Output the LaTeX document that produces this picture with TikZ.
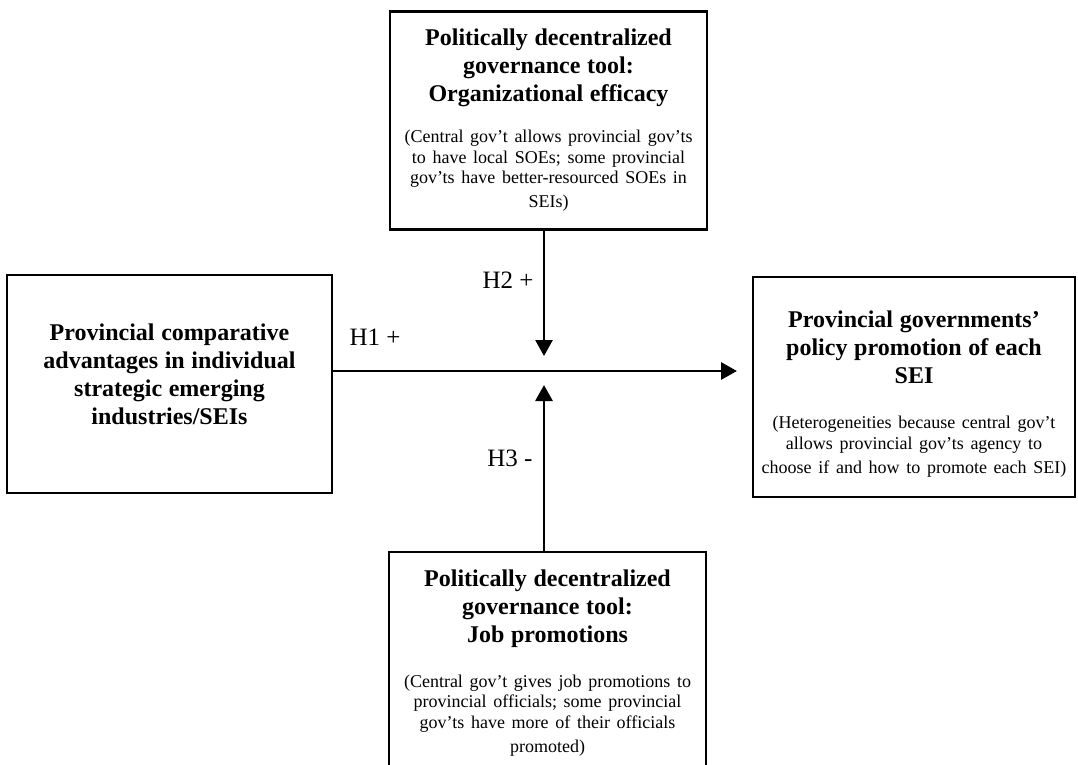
\documentclass[tikz,border=0pt]{standalone}
\usepackage{fontspec}
\setmainfont{Liberation Serif}
\usetikzlibrary{arrows.meta,positioning,calc}

\newcommand{\headfont}{\fontsize{12}{14}\selectfont\bfseries}
\newcommand{\notefont}{\fontsize{9}{10.35}\selectfont\mdseries}
\newcommand{\gapbelow}[1]{\par\kern#1\hrule height0pt}
\newcommand{\gapabove}[1]{\hrule height0pt\kern#1}

\begin{document}
\begin{tikzpicture}[
  x=0.5pt, y=-0.5pt, >={Triangle[length=8pt,width=8.5pt]},
  box/.style={draw, line width=1.3pt, align=center, inner xsep=3pt, inner ysep=0pt,
              text width=#1-6pt, minimum width=#1, minimum height=109pt},
  hyp/.style={font=\fontsize{12.5}{14}\selectfont, inner sep=0pt},
  flow/.style={->, line width=1.4pt},
]
\path[use as bounding box, clip] (0,0) rectangle (1078,765);

% ---------------- boxes ----------------
\node[box=158.5pt] (org) at (548.5,120.5)
  {\headfont Politically decentralized\\governance tool:\\Organizational efficacy\par
   \vspace{10pt}\notefont (Central gov't allows provincial gov'ts\\to have local SOEs; some provincial\\gov'ts have better-resourced SOEs in\\SEIs)};
\node[box=162.5pt] (adv) at (169.5,384)
  {\headfont Provincial comparative\\advantages in individual\\strategic emerging\\industries/SEIs\gapbelow{10pt}};
\node[box=161pt, minimum height=110pt] (pol) at (914,387)
  {\gapabove{7pt}\headfont Provincial governments'\\policy promotion of each\\SEI\par
   \vspace{12pt}\notefont (Heterogeneities because central gov't\\allows provincial gov'ts agency to\\choose if and how to promote each SEI)};
\node[box=158.5pt, minimum height=111pt] (job) at (547.5,663)
  {\headfont Politically decentralized\\governance tool:\\Job promotions\par
   \vspace{12pt}\notefont (Central gov't gives job promotions to\\provincial officials; some provincial\\gov'ts have more of their officials\\promoted)};

% ---------------- hypotheses ----------------
\coordinate (mid) at (544,371);
\coordinate (h1end) at (737,371);
\draw[flow] (adv.east |- mid) -- (h1end);
\draw[flow] (org.south -| mid) -- ([yshift=7.5pt]mid);
\draw[flow] (job.north -| mid) -- ([yshift=-7pt]mid);

\node[hyp] (h1) at (375,337) {H1 +};
\node[hyp] (h2) at (508,280) {H2 +};
\node[hyp] (h3) at (510,458) {H3 -};
\end{tikzpicture}
\end{document}
